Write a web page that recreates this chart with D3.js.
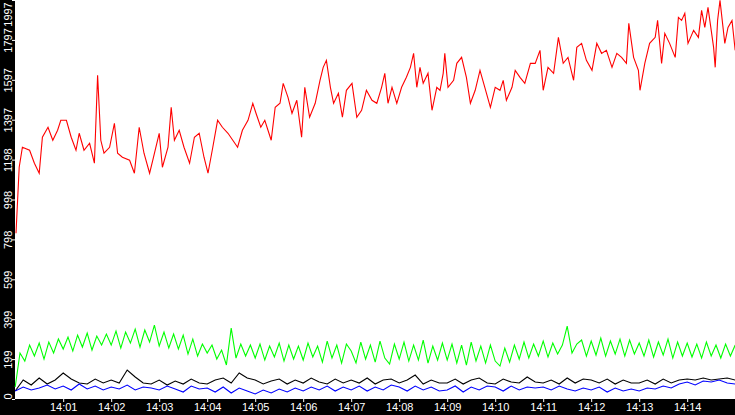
<!DOCTYPE html>
<html><head><meta charset="utf-8">
<script src="https://cdn.jsdelivr.net/npm/d3@7"></script>
<style>body{margin:0;background:#fff}svg{display:block}text{font-family:"Liberation Sans",Arial,sans-serif;fill:#fff}</style>
</head><body><svg id="c" width="735" height="415"></svg>
<script>
// Seconds after 14:00:00
const redSeconds = [1,5,9,18,24,30,34,41,47,53,57,64,70,76,80,86,93,99,103,107,111,118,124,128,134,143,149,155,161,168,172,180,184,191,195,199,205,211,218,224,230,236,241,247,253,259,266,272,278,284,291,297,301,307,312,320,325,331,335,341,346,352,358,362,368,375,381,385,389,394,398,404,409,414,421,427,433,439,446,452,458,462,466,471,477,483,489,494,498,502,506,510,516,521,527,531,535,537,541,548,552,558,564,569,575,581,587,594,600,606,610,614,621,625,631,637,644,650,656,660,666,673,679,685,691,698,702,708,714,721,727,733,739,746,752,758,764,767,773,779,781,787,793,800,803,808,812,818,825,829,833,837,841,848,854,858,862,866,873,875,878,881,887,891,896,900];
const redValues = [830,1160,1260,1245,1180,1130,1310,1360,1295,1345,1395,1395,1310,1245,1330,1245,1280,1180,1620,1295,1230,1260,1380,1230,1210,1195,1130,1360,1230,1130,1195,1330,1160,1260,1460,1295,1345,1260,1180,1310,1330,1210,1130,1260,1395,1360,1330,1295,1260,1345,1395,1480,1430,1360,1395,1295,1460,1480,1580,1510,1430,1495,1310,1560,1410,1480,1595,1660,1695,1560,1480,1530,1410,1545,1580,1410,1445,1545,1495,1480,1560,1630,1480,1560,1480,1560,1610,1660,1730,1560,1660,1580,1630,1445,1560,1545,1630,1730,1560,1595,1680,1710,1610,1480,1545,1645,1560,1460,1560,1545,1595,1495,1560,1645,1610,1580,1680,1680,1745,1545,1660,1630,1810,1680,1710,1595,1760,1780,1695,1645,1780,1730,1745,1660,1730,1710,1680,1880,1710,1645,1545,1680,1780,1810,1895,1680,1830,1780,1710,1910,1895,1930,1780,1845,1810,1945,1860,1960,1760,1660,1895,1995,1780,1860,1895,1745];
// Green sampled every 6 s, black and blue every 10 s
const greenStep = 6, blackStep = 10, blueStep = 10;
const greenValues = [60,230,190,270,215,280,200,285,230,300,
250,310,240,320,260,330,245,315,270,325,
270,340,255,335,280,350,260,345,285,370,
265,335,255,325,250,320,225,300,215,275,
230,270,200,245,170,355,205,275,215,270,
205,275,195,265,210,280,190,270,200,265,
195,280,210,265,185,290,205,270,180,275,
240,180,285,200,270,185,290,205,175,275,
200,285,190,270,195,295,180,265,195,280,
195,275,180,270,170,285,190,265,180,270,
190,165,255,185,270,200,285,205,275,215,
290,210,280,225,270,365,230,275,295,215,
290,220,305,215,290,225,300,215,295,225,
280,215,295,210,285,220,300,205,285,215,
280,210,275,205,285,215,270,205,275,215,270];
const blackValues = [40,95,70,105,75,95, 130,100,80,75,100,80, 95,80,145,110,80,75, 95,70,90,75,100,80,
75,95,105,80,130,105, 95,75,90,100,75,95, 80,105,85,75,100,80, 95,80,105,75,95,100,
80,95,120,75,95,80, 80,100,75,95,105,80, 75,100,85,80,110,85, 80,95,75,105,80,100,
95,80,100,75,95,80, 80,95,75,100,80,95, 100,95,105,95,100,105,95];
const blueValues = [40,60,45,55,70,50, 65,45,75,50,65,45, 60,50,70,45,60,55, 45,65,50,35,65,50,
55,35,60,30,55,40, 25,45,30,50,35,55, 40,60,45,65,40,60, 45,65,40,60,45,70,
60,40,65,45,60,40, 45,65,35,60,45,65, 60,40,65,45,60,55, 60,45,65,50,40,55,
45,60,35,55,40,50, 40,55,50,65,55,75, 85,70,90,85,95,80,75];
const yTickValues = [0,199.7,399.4,599.1,798.8,998.5,1198.2,1397.9,1597.6,1797.3,1997];
const yTickLabels = ["0","199","399","599","798","998","1198","1397","1597","1797","1997"];
const xTickLabels = ["14:01","14:02","14:03","14:04","14:05","14:06","14:07","14:08","14:09","14:10","14:11","14:12","14:13","14:14"];

const svg = d3.select("#c");
const W = 735, H = 415, left = 15, bottom = 399;
const t0 = new Date(2020,0,1,14,0,0);
const sec = s => new Date(t0.getTime() + s*1000);
const x = d3.scaleTime().domain([sec(0), sec(900)]).range([15.2, 735.2]);
const y = d3.scaleLinear().domain([0,1997]).range([bottom, 0]);

svg.append("rect").attr("x",0).attr("y",0).attr("width",left).attr("height",H).attr("fill","#000");
svg.append("rect").attr("x",0).attr("y",bottom).attr("width",W).attr("height",H-bottom).attr("fill","#000");

const line = d3.line().x(d=>x(sec(d[0]))).y(d=>y(d[1]));
const series = [
  [blackValues.map((v,i)=>[i*blackStep,v]), "#000"],
  [blueValues.map((v,i)=>[i*blueStep,v]), "#0000ff"],
  [greenValues.map((v,i)=>[i*greenStep,v]), "#00ff00"],
  [redSeconds.map((s,i)=>[s,redValues[i]]), "#ff0000"]
];
const g = svg.append("g");
series.forEach(([d,c])=>g.append("path").attr("d",line(d)).attr("fill","none").attr("stroke",c).attr("stroke-width",1.1));

// x axis
const xAxis = d3.axisBottom(x).tickValues(xTickLabels.map((_,i)=>sec(60*(i+1)))).tickFormat((d,i)=>xTickLabels[i]).tickSize(3).tickPadding(1);
const xa = svg.append("g").attr("transform",`translate(0,${bottom})`).call(xAxis);
xa.select(".domain").remove();
xa.selectAll("line").attr("stroke","#fff");
xa.selectAll("text").attr("fill","#fff").style("font-size","11px").style("font-family","'Liberation Sans',Arial,sans-serif");

// y axis
const yAxis = d3.axisLeft(y).tickValues(yTickValues).tickFormat((d,i)=>yTickLabels[i]).tickSize(3).tickPadding(0);
const ya = svg.append("g").attr("transform",`translate(${left},0)`).call(yAxis);
ya.select(".domain").remove();
ya.selectAll("line").attr("stroke","#fff");
ya.selectAll("text").attr("fill","#fff").style("font-size","11px").style("font-family","'Liberation Sans',Arial,sans-serif")
  .attr("text-anchor","middle").attr("dy","0.35em").attr("x",0).attr("y",0)
  .attr("transform","translate(-7,0) rotate(-90)");
ya.selectAll(".tick").filter((d,i)=>i===0).select("text").attr("x",3);
ya.selectAll(".tick").filter((d,i)=>i===yTickValues.length-1).select("text").attr("x",-14);
</script></body></html>
